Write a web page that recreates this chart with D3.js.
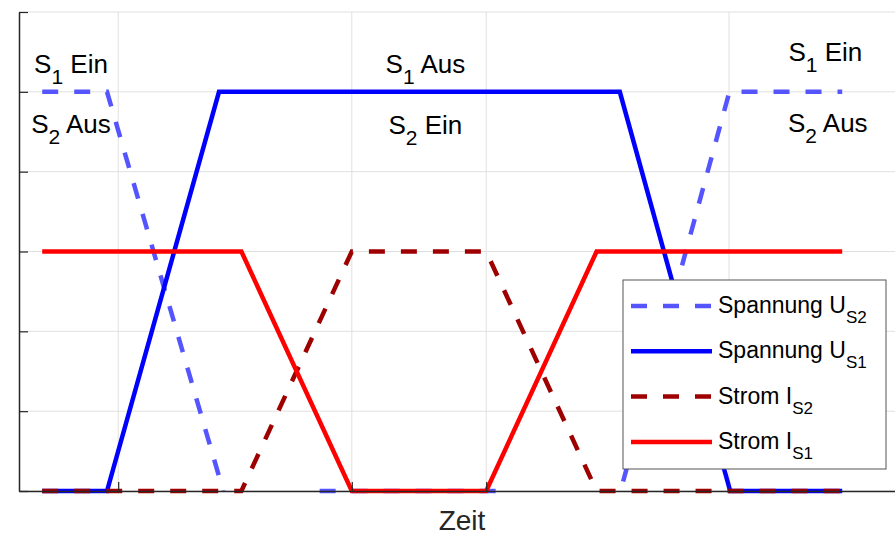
<!DOCTYPE html>
<html>
<head>
<meta charset="utf-8">
<script src="https://cdn.jsdelivr.net/npm/d3@7"></script>
<style>
  html, body { margin: 0; padding: 0; background: #fff; }
  svg { display: block; font-family: "Liberation Sans", Arial, Helvetica, sans-serif; }
</style>
</head>
<body>
<svg id="chart" width="895" height="533"></svg>
<script>
// Switching waveforms of two complementary switches (arbitrary time units)
const seriesNames = ["Spannung U_S2", "Spannung U_S1", "Strom I_S2", "Strom I_S1"];

// U_S2: falls while S2 closes (slightly undershooting zero), rises again when it opens
const uS2Time  = [2.9, 11, 26.7, 35.6, 61.4, 74.1, 88.8, 102.9];
const uS2Value = [5, 5, -0.4, 0, 0, -0.4, 5, 5];

// U_S1: S1 opens (voltage rises), later closes again
const uS1Time  = [2.9, 11, 25, 75.1, 88.9, 102.9];
const uS1Value = [0, 0, 5, 5, 0, 0];

// I_S2: current commutates to S2 and back
const iS2Time  = [2.9, 27.8, 41.6, 58.4, 72.2, 102.9];
const iS2Value = [0, 0, 3, 3, 0, 0];

// I_S1: current leaves S1 and returns
const iS1Time  = [2.9, 27.8, 41.6, 58.4, 72.2, 102.9];
const iS1Value = [3, 3, 0, 0, 3, 3];

const xTicks = [12.4, 41.6, 58.4, 88.75];
const yTicks = [0, 1, 2, 3, 4, 5, 6];

(function draw() {
  const svg = d3.select("#chart");
  const mLeft = 19, mTop = 12, mBottom = 491, mRight = 899;

  const x = d3.scaleLinear().domain([0, 110]).range([mLeft, mRight]);
  const y = d3.scaleLinear().domain([0, 6]).range([mBottom, mTop]);
  const yMin = y.domain()[0];

  // grid
  const grid = svg.append("g");
  grid.selectAll("line.h").data(yTicks).join("line").attr("class", "h")
    .attr("x1", mLeft).attr("x2", mRight)
    .attr("y1", d => y(d)).attr("y2", d => y(d))
    .attr("stroke", "#e0e0e0").attr("stroke-width", 1);
  grid.selectAll("line.v").data(xTicks).join("line").attr("class", "v")
    .attr("x1", d => x(d)).attr("x2", d => x(d))
    .attr("y1", mTop).attr("y2", mBottom)
    .attr("stroke", "#e0e0e0").attr("stroke-width", 1);

  // Clip a polyline to the y-limits in data space: parts below the lower
  // limit are dropped (the stroke itself is not cut). Each visible piece
  // remembers its distance along the full path so dashes keep their phase.
  function clipToLimits(pts) {
    const px = p => [x(p[0]), y(p[1])];
    const dist = (a, b) => Math.hypot(px(a)[0] - px(b)[0], px(a)[1] - px(b)[1]);
    const pieces = [];
    let cur = null, len = 0;
    pts.forEach((p, i) => {
      if (i > 0) {
        const q = pts[i - 1];
        const qIn = q[1] >= yMin, pIn = p[1] >= yMin;
        if (qIn !== pIn) {
          const f = (yMin - q[1]) / (p[1] - q[1]);
          const c = [q[0] + f * (p[0] - q[0]), yMin];
          if (qIn) { cur.points.push(c); pieces.push(cur); cur = null; }
          else { cur = { offset: len + dist(q, c), points: [c] }; }
        }
        len += dist(q, p);
      }
      if (p[1] >= yMin) {
        if (!cur) cur = { offset: len, points: [] };
        cur.points.push(p);
      }
    });
    if (cur && cur.points.length > 1) pieces.push(cur);
    return pieces;
  }

  // series lines
  const styles = [
    { color: "#5555ff", dash: "16,16" },
    { color: "#0000ff", dash: null },
    { color: "#9e0000", dash: "16,16" },
    { color: "#ff0000", dash: null }
  ];
  const series = [
    d3.zip(uS2Time, uS2Value),
    d3.zip(uS1Time, uS1Value),
    d3.zip(iS2Time, iS2Value),
    d3.zip(iS1Time, iS1Value)
  ];
  const line = d3.line().x(d => x(d[0])).y(d => y(d[1]));
  series.forEach((s, i) => {
    clipToLimits(s).forEach(piece => {
      svg.append("path")
        .attr("d", line(piece.points))
        .attr("fill", "none")
        .attr("stroke", styles[i].color)
        .attr("stroke-width", 4.5)
        .attr("stroke-linejoin", "miter")
        .attr("stroke-dasharray", styles[i].dash)
        .attr("stroke-dashoffset", styles[i].dash ? -piece.offset : null);
    });
  });

  // axes with inward ticks, no labels
  const yAxis = d3.axisLeft(y).tickValues(yTicks).tickSize(-9).tickSizeOuter(0).tickFormat("");
  const gy = svg.append("g").attr("transform", `translate(${mLeft},0)`).call(yAxis);
  const xAxis = d3.axisBottom(x).tickValues(xTicks).tickSize(-9).tickSizeOuter(0).tickFormat("");
  const gx = svg.append("g").attr("transform", `translate(0,${mBottom})`).call(xAxis);
  [gx, gy].forEach(g => {
    g.select(".domain").attr("stroke", "#262626").attr("stroke-width", 1.5);
    g.selectAll(".tick line").attr("stroke", "#262626").attr("stroke-width", 1.2);
  });

  // state annotations
  function subText(cx, cy, main, sub, rest) {
    const t = svg.append("text")
      .attr("x", cx).attr("y", cy)
      .attr("text-anchor", "middle")
      .attr("font-size", 26).attr("fill", "#000");
    t.append("tspan").text(main);
    t.append("tspan").attr("font-size", 21).attr("dy", 11).text(sub);
    t.append("tspan").attr("dy", -11).text(rest);
  }
  subText(x(6.5), y(5.24), "S", "1", " Ein");
  subText(x(6.5), y(4.49), "S", "2", " Aus");
  subText(x(50.8), y(5.24), "S", "1", " Aus");
  subText(x(50.8), y(4.47), "S", "2", " Ein");
  subText(x(100.8), y(5.39), "S", "1", " Ein");
  subText(x(101.1), y(4.5), "S", "2", " Aus");

  // x-axis label
  svg.append("text")
    .attr("x", 462).attr("y", 530)
    .attr("text-anchor", "middle")
    .attr("font-size", 28).attr("fill", "#262626")
    .text("Zeit");

  // legend
  const lg = svg.append("g").attr("transform", "translate(623,280)");
  lg.append("rect").attr("width", 263).attr("height", 189)
    .attr("fill", "#fff").attr("stroke", "#555").attr("stroke-width", 1);
  const legendLabels = [
    ["Spannung U", "S2"],
    ["Spannung U", "S1"],
    ["Strom I", "S2"],
    ["Strom I", "S1"]
  ];
  legendLabels.forEach((lab, i) => {
    const cy = 26 + i * 45.3;
    lg.append("line")
      .attr("x1", 8).attr("x2", 89).attr("y1", cy).attr("y2", cy)
      .attr("stroke", styles[i].color).attr("stroke-width", 4.5)
      .attr("stroke-dasharray", styles[i].dash);
    const t = lg.append("text")
      .attr("x", 95).attr("y", cy + 7)
      .attr("font-size", 23).attr("fill", "#000");
    t.append("tspan").text(lab[0]);
    t.append("tspan").attr("font-size", 17).attr("dy", 10).text(lab[1]);
  });
})();
</script>
</body>
</html>
